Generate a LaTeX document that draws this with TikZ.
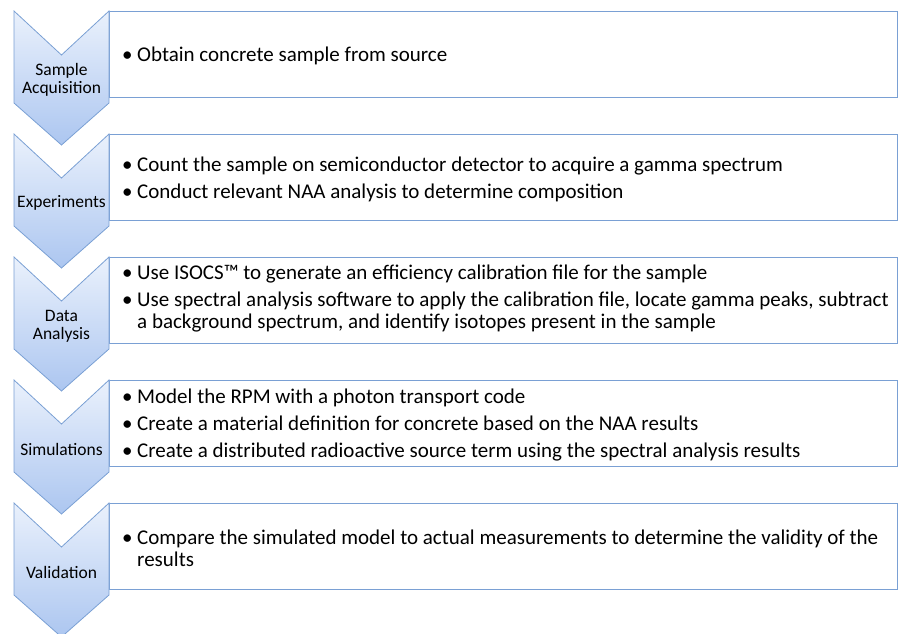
\documentclass[tikz,border=0pt]{standalone}
\usepackage{fontspec}
\setmainfont{Carlito}
\definecolor{chevtop}{RGB}{234,241,252}
\definecolor{chevbot}{RGB}{172,198,240}
\definecolor{edge}{RGB}{122,160,212}
\newcommand{\bit}{\makebox[15pt][l]{•}}
\newcommand{\cont}{\hspace*{15pt}}
\tikzset{
  chev/.style={top color=chevtop, bottom color=chevbot, draw=edge, line width=0.8pt, line join=miter},
  panel/.style={draw=edge, line width=1pt, fill=white},
  chevlabel/.style={font=\fontsize{17.5}{18}\selectfont, align=center, inner sep=0pt},
  bullets/.style={font=\fontsize{21}{22}\selectfont, align=left, inner sep=0pt, anchor=west},
}
\begin{document}
\begin{tikzpicture}[x=1pt,y=-1pt]
\useasboundingbox (0,0) rectangle (899,633);
\begin{scope}
\clip (0,0) rectangle (899,633);
\foreach \y/\d [count=\i] in {11/45,134/45,257/42,380/45,503/45}{
  \draw[panel] (109,\y) rectangle (897,\y+86);
  \path[chev] (14,\y) -- (61.5,\y+44) -- (109,\y) -- (109,\y+92) -- (61.5,\y+134) -- (14,\y+92) -- cycle;
  \coordinate (c\i) at (61.5,\y+69);
  \coordinate (t\i) at (122,\y+\d);
}
\end{scope}
\node[chevlabel] (l1) at (c1) {Sample\\Acquisition};
\node[chevlabel] (l2) at (c2) {Experiments};
\node[chevlabel] (l3) at (c3) {Data\\Analysis};
\node[chevlabel] (l4) at (c4) {Simulations};
\node[chevlabel] (l5) at (c5) {Validation};
\node[bullets] (b1) at (t1) {\bit Obtain concrete sample from source};
\node[bullets] (b2) at (t2) {\bit Count the sample on semiconductor detector to acquire a gamma spectrum\\[5pt]
\bit Conduct relevant NAA analysis to determine composition};
\node[bullets] (b3) at (t3) {\bit Use ISOCS™ to generate an efficiency calibration file for the sample\\[5pt]
\bit Use spectral analysis software to apply the calibration file, locate gamma peaks, subtract\\
\cont a background spectrum, and identify isotopes present in the sample};
\node[bullets] (b4) at (t4) {\bit Model the RPM with a photon transport code\\[5pt]
\bit Create a material definition for concrete based on the NAA results\\[5pt]
\bit Create a distributed radioactive source term using the spectral analysis results};
\node[bullets] (b5) at (t5) {\bit Compare the simulated model to actual measurements to determine the validity of the\\
\cont results};
\end{tikzpicture}
\end{document}
